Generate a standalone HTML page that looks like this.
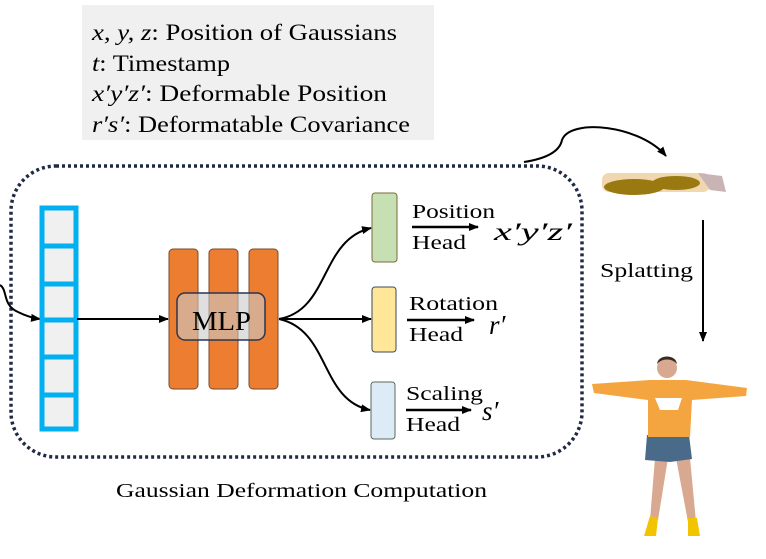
<!DOCTYPE html>
<html><head><meta charset="utf-8"><style>
body{margin:0;background:#fff;}
svg{display:block;}
svg text{font-family:"Liberation Serif","Noto Serif CJK SC","DejaVu Serif",serif;fill:#000;}
</style></head><body>
<svg width="766" height="559" viewBox="0 0 766 559" xmlns="http://www.w3.org/2000/svg">
<defs>
<marker id="ah" markerWidth="10" markerHeight="8" refX="9" refY="4" orient="auto" markerUnits="userSpaceOnUse"><path d="M0,0 L10,4 L0,8 Z" fill="#000"/></marker>
</defs>
<rect x="82" y="5" width="352" height="135" fill="#f0f0f0"/>
<text x="92" y="40" font-size="23" textLength="305" lengthAdjust="spacingAndGlyphs"><tspan font-style="italic">x, y, z</tspan>: Position of Gaussians</text>
<text x="92" y="71" font-size="23" textLength="138" lengthAdjust="spacingAndGlyphs"><tspan font-style="italic">t</tspan>: Timestamp</text>
<text x="92" y="101" font-size="23" textLength="295" lengthAdjust="spacingAndGlyphs"><tspan font-style="italic">x′y′z′</tspan>: Deformable Position</text>
<text x="92" y="132" font-size="23" textLength="318" lengthAdjust="spacingAndGlyphs"><tspan font-style="italic">r′s′</tspan>: Deformatable Covariance</text>
<rect x="11" y="166" width="571" height="291" rx="45" ry="45" fill="none" stroke="#1f2a44" stroke-width="3.5" stroke-dasharray="3 3"/>
<path d="M0,285 C8,290 2,305 18,312 C26,316 32,318 40,319" fill="none" stroke="#000" stroke-width="2" marker-end="url(#ah)"/>
<rect x="42" y="208" width="34" height="221" fill="#f0f0f0" stroke="#00b0f0" stroke-width="5"/>
<g stroke="#00b0f0" stroke-width="5">
<line x1="42" y1="246" x2="76" y2="246"/><line x1="42" y1="284" x2="76" y2="284"/>
<line x1="42" y1="320" x2="76" y2="320"/><line x1="42" y1="357" x2="76" y2="357"/>
<line x1="42" y1="395" x2="76" y2="395"/></g>
<line x1="77" y1="319" x2="168" y2="319" stroke="#000" stroke-width="2" marker-end="url(#ah)"/>
<g fill="#ed7d31" stroke="#7a4a2a" stroke-width="1">
<rect x="169" y="249" width="29" height="140" rx="4"/><rect x="209" y="249" width="29" height="140" rx="4"/><rect x="249" y="249" width="29" height="140" rx="4"/></g>
<rect x="177" y="293" width="88" height="47" rx="8" fill="#c9c9c9" fill-opacity="0.6" stroke="#2a3550" stroke-width="1.5"/>
<text x="192" y="330" font-size="27" textLength="59" lengthAdjust="spacingAndGlyphs">MLP</text>
<path d="M279,319 C330,310 320,240 371,228" fill="none" stroke="#000" stroke-width="2" marker-end="url(#ah)"/>
<line x1="279" y1="319" x2="371" y2="319" stroke="#000" stroke-width="2" marker-end="url(#ah)"/>
<path d="M279,319 C330,330 320,400 370,410" fill="none" stroke="#000" stroke-width="2" marker-end="url(#ah)"/>
<rect x="372" y="193" width="25" height="69" rx="3" fill="#c6e0b4" stroke="#7a6a3a" stroke-width="1"/>
<rect x="372" y="287" width="24" height="65" rx="3" fill="#ffe699" stroke="#3a4a5a" stroke-width="1"/>
<rect x="371" y="382" width="24" height="57" rx="3" fill="#ddebf7" stroke="#5a6a5a" stroke-width="1"/>
<text x="412" y="218" font-size="20" textLength="83" lengthAdjust="spacingAndGlyphs">Position</text>
<line x1="412" y1="227" x2="478" y2="227" stroke="#000" stroke-width="2.5" marker-end="url(#ah)"/>
<text x="412" y="249" font-size="20" textLength="54" lengthAdjust="spacingAndGlyphs">Head</text>
<text x="494" y="240" font-size="25" font-style="italic" textLength="78" lengthAdjust="spacingAndGlyphs">x′y′z′</text>
<text x="409" y="310" font-size="20" textLength="89" lengthAdjust="spacingAndGlyphs">Rotation</text>
<line x1="407" y1="320" x2="474" y2="320" stroke="#000" stroke-width="2.5" marker-end="url(#ah)"/>
<text x="409" y="341" font-size="20" textLength="54" lengthAdjust="spacingAndGlyphs">Head</text>
<text x="489" y="334" font-size="27" font-style="italic">r′</text>
<text x="406" y="400" font-size="20" textLength="77" lengthAdjust="spacingAndGlyphs">Scaling</text>
<line x1="406" y1="410" x2="471" y2="410" stroke="#000" stroke-width="2.5" marker-end="url(#ah)"/>
<text x="406" y="431" font-size="20" textLength="54" lengthAdjust="spacingAndGlyphs">Head</text>
<text x="482" y="420" font-size="27" font-style="italic">s′</text>
<text x="116" y="497" font-size="20" textLength="371" lengthAdjust="spacingAndGlyphs">Gaussian Deformation Computation</text>
<text x="600" y="277" font-size="20" textLength="93" lengthAdjust="spacingAndGlyphs">Splatting</text>
<path d="M524,162 C550,158 560,150 562,140 C570,118 640,125 666,156" fill="none" stroke="#000" stroke-width="2" marker-end="url(#ah)"/>
<rect x="602" y="173" width="108" height="19" rx="7" fill="#f0d7b0"/>
<ellipse cx="634" cy="187" rx="30" ry="8" fill="#9a7a10"/>
<ellipse cx="676" cy="183" rx="24" ry="7" fill="#9a7a10"/>
<path d="M698,173 L722,176 L726,192 L710,190 Z" fill="#c8b4b4"/>
<line x1="703" y1="220" x2="703" y2="341" stroke="#000" stroke-width="2" marker-end="url(#ah)"/>
<g>
<path d="M655,458 L650,520 L658,520 L668,458 Z M676,458 L688,522 L696,522 L690,458 Z" fill="#d8a890"/>
<path d="M650,516 L658,518 L656,536 L644,536 Z M688,518 L697,518 L700,536 L688,536 Z" fill="#f2c400"/>
<path d="M647,435 L689,435 L692,459 L670,462 L645,460 Z" fill="#4a6a8a"/>
<path d="M592,384 L650,380 L686,380 L747,388 L746,396 L692,400 L690,437 L648,437 L648,400 L594,393 Z" fill="#f5a540"/>
<path d="M655,398 L682,398 L678,410 L660,410 Z" fill="#fff"/>
<circle cx="667" cy="368" r="10" fill="#d8a890"/>
<path d="M657,364 C658,354 676,354 677,364 C672,358 662,358 657,364 Z" fill="#3a2a20"/>
</g>
</svg>
</body></html>
